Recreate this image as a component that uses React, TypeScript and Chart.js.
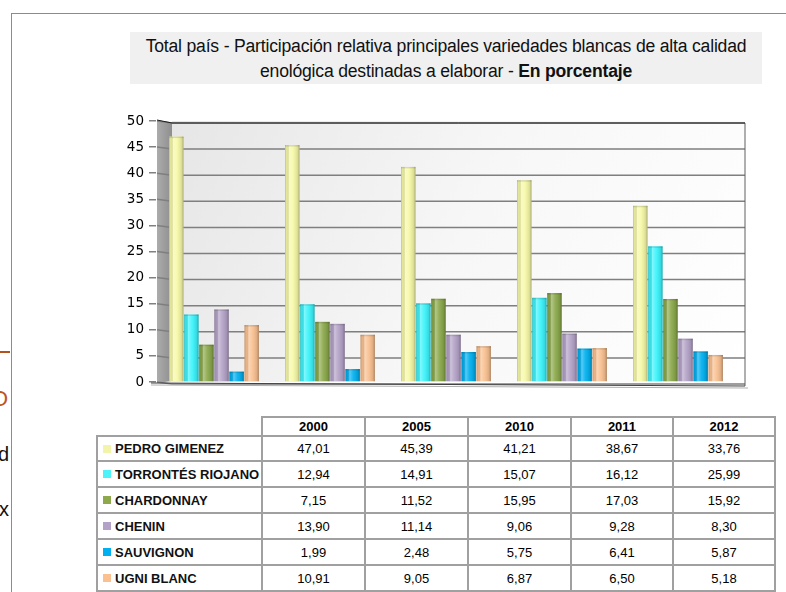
import React, { useEffect, useRef } from "react";
import { Chart, registerables } from "chart.js";
Chart.register(...registerables);

const years = ["2000", "2005", "2010", "2011", "2012"];
const varieties = ["PEDRO GIMENEZ", "TORRONTÉS RIOJANO", "CHARDONNAY", "CHENIN", "SAUVIGNON", "UGNI BLANC"];
const pedroGimenez = [47.01, 45.39, 41.21, 38.67, 33.76];
const torrontesRiojano = [12.94, 14.91, 15.07, 16.12, 25.99];
const chardonnay = [7.15, 11.52, 15.95, 17.03, 15.92];
const chenin = [13.9, 11.14, 9.06, 9.28, 8.3];
const sauvignon = [1.99, 2.48, 5.75, 6.41, 5.87];
const ugniBlanc = [10.91, 9.05, 6.87, 6.5, 5.18];
const yMin = 0;
const yMax = 50;
const yStep = 5;

const seriesList = [pedroGimenez, torrontesRiojano, chardonnay, chenin, sauvignon, ugniBlanc];
const barColors = ["#f6f9a6", "#3af4fb", "#8aa84a", "#b3a2c7", "#00b0f0", "#f9c090"];
const legendColors = ["#f2f5a9", "#4cf4fa", "#8ea84c", "#b3a2c7", "#00b0f0", "#fac090"];

const fmt = (v: number) => v.toFixed(2).replace(".", ",");

const TABLE_FONT = '"Liberation Sans", Arial, sans-serif';
const TITLE_FONT = '"Liberation Sans", Arial, sans-serif';

export default function App() {
  const ref = useRef<HTMLCanvasElement>(null);

  useEffect(() => {
    const wallPlugin = {
      id: "wall3d",
      beforeDatasetsDraw(chart: any) {
        const { ctx, chartArea: a, scales } = chart;
        const y = scales.y;
        const sideL = a.left + 1;
        const sideR = a.left + 16;
        const right = a.right + 9;
        const top = y.getPixelForValue(yMax);
        const bottom = y.getPixelForValue(yMin);
        ctx.save();
        // back wall
        let g = ctx.createLinearGradient(sideR, top, right, bottom);
        g.addColorStop(0, "#e6e6e6");
        g.addColorStop(0.5, "#f7f7f7");
        g.addColorStop(1, "#ffffff");
        ctx.fillStyle = g;
        ctx.fillRect(sideR, top, right - sideR, bottom - top);
        // side wall
        g = ctx.createLinearGradient(sideL, 0, sideR, 0);
        g.addColorStop(0, "#acacac");
        g.addColorStop(1, "#8e8e8e");
        ctx.fillStyle = g;
        ctx.beginPath();
        ctx.moveTo(sideL, top - 1);
        ctx.lineTo(sideR, top + 2);
        ctx.lineTo(sideR, bottom - 1);
        ctx.lineTo(sideL, bottom + 1);
        ctx.closePath();
        ctx.fill();
        // grid lines
        ctx.strokeStyle = "#7f7f7f";
        ctx.lineWidth = 1.5;
        y.ticks.forEach((t: any) => {
          const py = y.getPixelForValue(t.value);
          ctx.beginPath();
          ctx.moveTo(sideL, py);
          ctx.lineTo(sideR, py + 2);
          ctx.lineTo(right, py + 2);
          ctx.stroke();
        });
        // back wall right edge & top edge
        ctx.strokeStyle = "#606060";
        ctx.lineWidth = 1;
        ctx.beginPath();
        ctx.moveTo(right, top + 2);
        ctx.lineTo(right, bottom + 4);
        ctx.stroke();
        ctx.strokeStyle = "#202020";
        ctx.beginPath();
        ctx.moveTo(sideL, top - 1);
        ctx.lineTo(sideR, top + 2);
        ctx.lineTo(right, top + 2);
        ctx.stroke();
        // floor edge
        ctx.strokeStyle = "#404040";
        ctx.lineWidth = 1.2;
        ctx.beginPath();
        ctx.moveTo(sideL - 6, bottom + 1);
        ctx.lineTo(right, bottom + 4);
        ctx.stroke();
        ctx.strokeStyle = "#b0b0b0";
        ctx.beginPath();
        ctx.moveTo(sideL - 6, bottom + 3);
        ctx.lineTo(right + 3, bottom + 6);
        ctx.stroke();
        ctx.restore();
      },
      afterDatasetsDraw(chart: any) {
        const { ctx } = chart;
        ctx.save();
        chart.data.datasets.forEach((_: any, i: number) => {
          const meta = chart.getDatasetMeta(i);
          meta.data.forEach((el: any) => {
            const p = el.getProps(["x", "y", "base", "width"], true);
            const l = p.x - p.width / 2;
            const w = p.width;
            const g = ctx.createLinearGradient(l, 0, l + w, 0);
            g.addColorStop(0, "rgba(0,0,0,0.22)");
            g.addColorStop(0.12, "rgba(0,0,0,0.05)");
            g.addColorStop(0.3, "rgba(255,255,255,0.35)");
            g.addColorStop(0.55, "rgba(255,255,255,0.08)");
            g.addColorStop(0.85, "rgba(0,0,0,0.1)");
            g.addColorStop(1, "rgba(0,0,0,0.3)");
            ctx.fillStyle = g;
            ctx.fillRect(l, p.y, w, p.base - p.y);
            ctx.fillStyle = "rgba(0,0,0,0.12)";
            ctx.fillRect(l, p.y, w, 1.5);
          });
        });
        ctx.restore();
      },
    };

    const chart = new Chart(ref.current as HTMLCanvasElement, {
      type: "bar",
      data: {
        labels: years,
        datasets: varieties.map((v, i) => ({
          label: v,
          data: seriesList[i],
          backgroundColor: barColors[i],
          borderWidth: 0,
          categoryPercentage: 0.78,
          barPercentage: 0.96,
        })),
      },
      options: {
        animation: false,
        responsive: false,
        layout: { padding: { top: 21, right: 24, bottom: 18, left: 0 } },
        plugins: {
          legend: { display: false },
          tooltip: { enabled: false },
          title: { display: false },
        },
        scales: {
          x: { display: false },
          y: {
            min: yMin,
            max: yMax,
            afterFit(s: any) {
              s.width = 56;
            },
            ticks: {
              stepSize: yStep,
              color: "#000",
              padding: 5,
              font: { family: '"DejaVu Sans", sans-serif', size: 13.5 },
            },
            grid: { drawOnChartArea: false, tickLength: 7, color: "#808080", lineWidth: 1.5 },
            border: { display: false },
          },
        },
      },
      plugins: [wallPlugin],
    } as any);
    return () => chart.destroy();
  }, []);

  const colEdges = [97, 262, 365, 468, 571, 673, 775];
  const rowEdges = [417, 436, 461, 487, 513, 539, 565, 591];
  const lineColor = "#a0a0a0";

  const lines: React.ReactNode[] = [];
  rowEdges.forEach((ry, i) => {
    const x0 = i === 0 ? colEdges[1] : colEdges[0];
    lines.push(
      <div key={"h" + i} style={{ position: "absolute", left: x0 - 1, top: ry - 1, width: colEdges[6] - x0 + 2, height: 2, background: lineColor }} />
    );
  });
  colEdges.forEach((cx, i) => {
    const y0 = i === 0 ? rowEdges[1] : rowEdges[0];
    lines.push(
      <div key={"v" + i} style={{ position: "absolute", left: cx - 1, top: y0 - 1, width: 2, height: rowEdges[7] - y0 + 2, background: lineColor }} />
    );
  });

  const cellStyle = (x0: number, x1: number, y0: number, y1: number, bold: boolean): React.CSSProperties => ({
    position: "absolute",
    left: x0,
    top: y0,
    width: x1 - x0,
    height: y1 - y0,
    display: "flex",
    alignItems: "center",
    justifyContent: "center",
    fontFamily: TABLE_FONT,
    fontSize: 13,
    fontWeight: bold ? "bold" : "normal",
    color: "#000",
  });

  return (
    <div style={{ position: "fixed", left: 0, top: 0, width: 786, height: 592, background: "#fff", overflow: "hidden" }}>
      {/* slide background artifacts */}
      <div style={{ position: "absolute", left: 11, top: 13, width: 800, height: 1, background: "#8c8c8c" }} />
      <div style={{ position: "absolute", left: 11, top: 13, width: 1, height: 600, background: "#8c8c8c" }} />
      <div style={{ position: "absolute", left: 0, top: 351, width: 10, height: 2, background: "#b5521c" }} />
      <div style={{ position: "absolute", right: 778, top: 385, fontFamily: '"Liberation Sans", Arial, sans-serif', fontSize: 22, color: "#c0561c", lineHeight: "28px" }}>O</div>
      <div style={{ position: "absolute", right: 777, top: 441, fontFamily: '"Liberation Sans", Arial, sans-serif', fontSize: 20, color: "#111", lineHeight: "26px" }}>d</div>
      <div style={{ position: "absolute", right: 777, top: 496, fontFamily: '"Liberation Sans", Arial, sans-serif', fontSize: 20, color: "#111", lineHeight: "26px" }}>x</div>

      {/* title */}
      <div
        style={{
          position: "absolute",
          left: 130,
          top: 32,
          width: 632,
          height: 52,
          background: "#f0f0f0",
          fontFamily: TITLE_FONT,
          fontSize: 17.6,
          lineHeight: "25px",
          color: "#111",
          textAlign: "center",
          paddingTop: 2,
          boxSizing: "border-box",
          whiteSpace: "nowrap",
          letterSpacing: -0.2,
        }}
      >
        <div>Total país - Participación relativa principales variedades blancas de alta calidad</div>
        <div>
          enológica destinadas a elaborar - <b>En porcentaje</b>
        </div>
      </div>

      <canvas ref={ref} width={660} height={300} style={{ position: "absolute", left: 100, top: 100, width: 660, height: 300 }} />

      {/* data table */}
      {lines}
      {years.map((yr, j) => (
        <div key={"hd" + j} style={cellStyle(colEdges[j + 1], colEdges[j + 2], rowEdges[0], rowEdges[1], true)}>
          {yr}
        </div>
      ))}
      {varieties.map((v, i) => (
        <React.Fragment key={"r" + i}>
          <div
            style={{
              position: "absolute",
              left: colEdges[0],
              top: rowEdges[i + 1],
              width: colEdges[1] - colEdges[0],
              height: rowEdges[i + 2] - rowEdges[i + 1],
              display: "flex",
              alignItems: "center",
              fontFamily: TABLE_FONT,
              fontSize: 13,
              fontWeight: "bold",
              color: "#111",
              whiteSpace: "nowrap",
            }}
          >
            <span style={{ display: "inline-block", width: 8, height: 8, background: legendColors[i], marginLeft: 6, marginRight: 4 }} />
            {v}
          </div>
          {seriesList[i].map((val, j) => (
            <div key={"c" + i + "_" + j} style={cellStyle(colEdges[j + 1], colEdges[j + 2], rowEdges[i + 1], rowEdges[i + 2], false)}>
              {fmt(val)}
            </div>
          ))}
        </React.Fragment>
      ))}
    </div>
  );
}
